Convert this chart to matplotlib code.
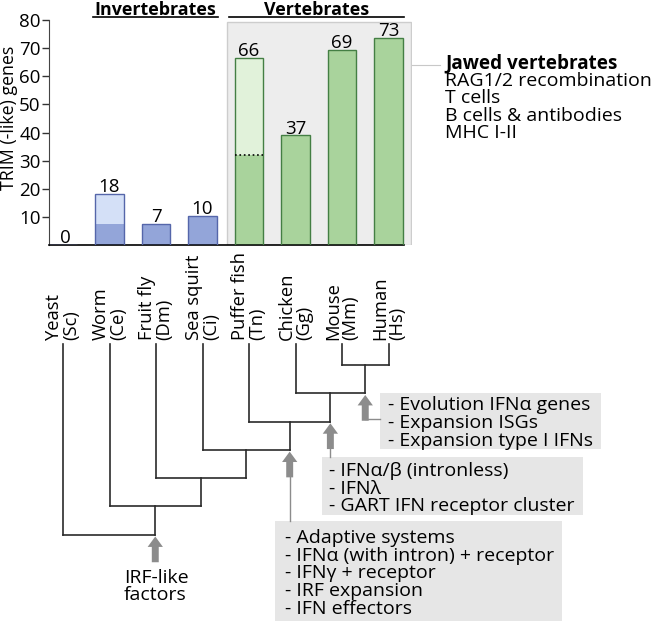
import matplotlib
matplotlib.use("Agg")
import matplotlib.pyplot as plt
from matplotlib.patches import Rectangle, FancyArrowPatch

plt.rcParams['font.family'] = ['Open Sans', 'DejaVu Sans']

# --- data ---
species = ['Yeast', 'Worm', 'Fruit fly', 'Sea squirt', 'Puffer fish', 'Chicken', 'Mouse', 'Human']
abbrev = ['Sc', 'Ce', 'Dm', 'Ci', 'Tn', 'Gg', 'Mm', 'Hs']
gene_counts = [0, 18, 7, 10, 66, 37, 69, 73]          # printed numbers
bar_heights = [0, 18.3, 7.6, 10.4, 66.6, 39.0, 69.5, 73.6]  # drawn bar tops
core_heights = [0, 7.5, 7.6, 10.4, 32.0, 39.0, 69.5, 73.6]  # darker lower part
vertebrate = [False, False, False, False, True, True, True, True]
yticks = [10, 20, 30, 40, 50, 60, 70, 80]

# species tree, leaves are indices into species
tree = (0, (1, (2, (3, (4, (5, (6, 7)))))))
arrow_clades = [(6, 7), (5, (6, 7)), (4, (5, (6, 7))), (1, (2, (3, (4, (5, (6, 7))))))]

jawed_title = 'Jawed vertebrates'
jawed_lines = ['RAG1/2 recombination', 'T cells', 'B cells & antibodies', 'MHC I-II']
box_notes = [
    ['- Evolution IFN\u03b1 genes', '- Expansion ISGs', '- Expansion type I IFNs'],
    ['- IFN\u03b1/\u03b2 (intronless)', '- IFN\u03bb', '- GART IFN receptor cluster'],
    ['- Adaptive systems', '- IFN\u03b1 (with intron) + receptor', '- IFN\u03b3 + receptor',
     '- IRF expansion', '- IFN effectors'],
]
root_note = ['IRF-like', 'factors']

# --- layout (pixels of the 652x621 picture) ---
W, H = 652, 621
PX0, STEP = 63, 46.5      # x pixel of species 0, spacing between species
LV0, LSTEP = 336.7, 28.3  # y pixel of tree level 0, spacing between levels


def X(px):
    return (px - PX0) / STEP


def Y(py):
    return (py - LV0) / LSTEP


blue_light, blue_dark, blue_edge = '#d4e0f7', '#93a5d9', '#5566aa'
green_light, green_dark, green_edge = '#e1f2da', '#a9d39c', '#447f44'
gray_arrow = '#8c8c8c'
line_col = '#2b2b2b'
note_fs = 14

fig = plt.figure(figsize=(W / 100, H / 100), dpi=100)

ov = fig.add_axes([0, 0, 1, 1])
ov.set_xlim(X(0), X(W))
ov.set_ylim(Y(H), Y(0))
ov.axis('off')

# --- bar chart ---
ax = fig.add_axes([49 / W, 1 - 245 / H, (411.7 - 49) / W, 225 / H])
ax.patch.set_alpha(0)
ax.set_xlim(X(49), X(411.7))
ax.set_ylim(0, 80)

ax.add_patch(Rectangle((X(227), 0), X(411) - X(227), 79.3, facecolor='#ededed',
                       edgecolor='#cdcdcd', lw=1, zorder=0))

xs = list(range(len(species)))
bw = 0.62
light = [green_light if v else blue_light for v in vertebrate]
dark = [green_dark if v else blue_dark for v in vertebrate]
edge = [green_edge if v else blue_edge for v in vertebrate]
tops = [h - c for h, c in zip(bar_heights, core_heights)]
ax.bar(xs, core_heights, width=bw, color=dark, edgecolor='none', zorder=2)
ax.bar(xs, tops, bottom=core_heights, width=bw, color=light, edgecolor='none', zorder=2)
ax.bar(xs, bar_heights, width=bw, facecolor='none', edgecolor=edge, lw=1, zorder=3)
for i in xs:
    if vertebrate[i] and core_heights[i] < bar_heights[i]:
        ax.hlines(core_heights[i], i - bw / 2, i + bw / 2, colors='k', linestyles=':', lw=1.2, zorder=4)
    ax.text(i + (0.05 if bar_heights[i] == 0 else 0), bar_heights[i] + 0.6, str(gene_counts[i]),
            ha='center', va='baseline', fontsize=13.5, zorder=5, clip_on=False)

ax.set_yticks(yticks)
ax.set_yticklabels([str(t) for t in yticks], fontsize=13.5)
ax.set_xticks([])
ax.tick_params(axis='y', length=5, width=1, pad=1, color='#333333')
for s in ['top', 'right']:
    ax.spines[s].set_visible(False)
ax.spines['left'].set_color('#444444')
ax.spines['bottom'].set_bounds(X(49), X(404))
ax.spines['bottom'].set_linewidth(1.2)

ov.text(X(9.5), Y(118), 'TRIM (-like) genes', rotation=90, ha='center', va='center', fontsize=12.8)

# group headers
ov.text(X(155.5), Y(15), 'Invertebrates', fontweight='bold', ha='center', va='baseline', fontsize=12.9)
ov.plot([X(93), X(218)], [Y(17.5)] * 2, color='k', lw=1.2)
ov.text(X(317), Y(15), 'Vertebrates', fontweight='bold', ha='center', va='baseline', fontsize=12.9)
ov.plot([X(229), X(404)], [Y(17.5)] * 2, color='k', lw=1.2)

# jawed vertebrates note
ov.plot([X(411), X(440)], [Y(65)] * 2, color='#c8c8c8', lw=0.8)
ov.text(X(445), Y(68), jawed_title, fontweight='bold', ha='left', va='baseline', fontsize=13.6)
for k, t in enumerate(jawed_lines):
    ov.text(X(445), Y(68 + 17.6 * (k + 1)), t, ha='left', va='baseline', fontsize=14)

# --- tree ---
leaf_top = Y(344)
pos = {}


def place(node):
    if isinstance(node, int):
        pos[node] = (node, 0)
        return pos[node]
    (xl, ll), (xr, lr) = place(node[0]), place(node[1])
    lvl = max(ll, lr) + 1
    pos[node] = ((xl + xr) / 2, lvl)
    for cx, cl in [(xl, ll), (xr, lr)]:
        ov.plot([cx, cx], [leaf_top if cl == 0 else cl, lvl], color=line_col, lw=1.2)
    ov.plot([xl, xr], [lvl, lvl], color=line_col, lw=1.2, solid_capstyle='projecting')
    return pos[node]


place(tree)

for i, name in enumerate(species):
    ov.text(i, Y(340), name + '\n(' + abbrev[i] + ')', rotation=90, ha='center', va='bottom',
            multialignment='left', linespacing=0.95, fontsize=13.2)

# upward arrows below the clades, joined to their note boxes
boxes_px = [(380, 393.3, 601, 449.3), (322, 456.7, 583, 515), (275, 520.7, 562, 650)]
text_left = [388, 329, 285]
first_base = [410.5, 476, 543.3]
for k, clade in enumerate(arrow_clades):
    cx, cl = pos[clade]
    join = cl + 1
    head, tail = join + 0.06, join + 0.97
    ov.add_patch(FancyArrowPatch((cx, tail), (cx, head),
                                 arrowstyle='simple,head_length=0.75,head_width=1.1,tail_width=0.5',
                                 mutation_scale=10, color=gray_arrow, shrinkA=0, shrinkB=0, lw=0))
    if k == 0:
        ov.plot([cx, X(boxes_px[0][0])], [tail - 0.05, tail - 0.05], color=gray_arrow, lw=1)
    elif k < 3:
        ov.plot([cx, cx], [tail, Y(boxes_px[k][1])], color=gray_arrow, lw=1)

for k, lines in enumerate(box_notes):
    x0, y0, x1, y1 = boxes_px[k]
    ov.add_patch(Rectangle((X(x0), Y(y0)), X(x1) - X(x0), Y(y1) - Y(y0),
                           facecolor='#e6e6e6', edgecolor='none', zorder=0))
    for j, t in enumerate(lines):
        ov.text(X(text_left[k]), Y(first_base[k] + 17.6 * j), t, ha='left', va='baseline',
                fontsize=note_fs)

for j, t in enumerate(root_note):
    ov.text(X(124), Y(583 + 17.2 * j), t, ha='left', va='baseline', fontsize=note_fs)

fig.savefig('out.png', dpi=100)
